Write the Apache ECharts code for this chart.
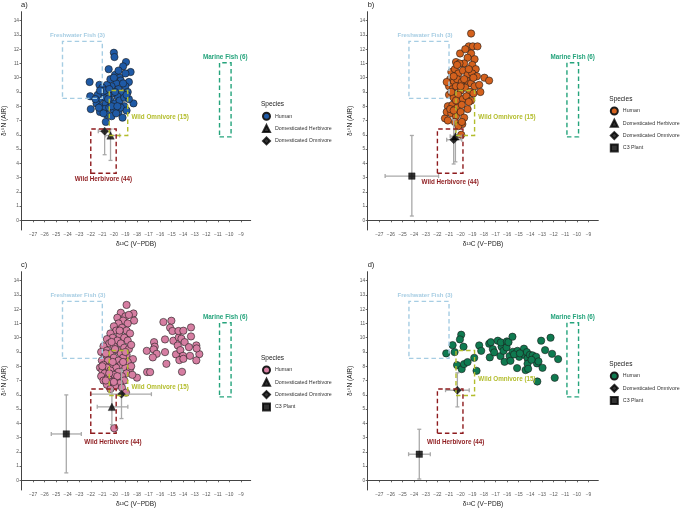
<!DOCTYPE html>
<html>
<head>
<meta charset="utf-8">
<script src="https://cdn.jsdelivr.net/npm/echarts@6/dist/echarts.min.js"></script>
<style>
html,body{margin:0;padding:0;background:#fff;}
#chart{width:680px;height:509px;}
</style>
</head>
<body>
<div id="chart"></div>
<script>
// tick values
var xTicks = [-27,-26,-25,-24,-23,-22,-21,-20,-19,-18,-17,-16,-15,-14,-13,-12,-11,-10,-9];
var yTicks = [0,1,2,3,4,5,6,7,8,9,10,11,12,13,14];
var panelLabels = ['a)', 'b)', 'c)', 'd)'];

// food group ranges: [xmin, ymin, xmax, ymax]
var boxNames = ['Freshwater Fish (3)', 'Marine Fish (6)', 'Wild Omnivore (15)', 'Wild Herbivore (44)'];
var freshwaterBox = [-24.45, 8.55, -21.0, 12.55];
var marineBox = [-10.85, 5.85, -9.85, 11.05];
var omnivoreBox = [-20.4, 5.95, -18.8, 9.1];
var herbivoreBox = [-22.0, 3.3, -19.8, 6.4];

// humans [d13C, d15N]
var humanA = [[-20.0,11.75],[-19.95,11.45],[-20.45,10.6],[-22.1,9.7],[-22.05,8.7],[-22.0,7.8],[-21.25,9.5],[-18.95,11.1],[-19.2,10.8],[-18.55,10.4],[-18.3,8.2],[-18.7,9.7],[-20.7,6.9],[-19.25,7.2],[-19.1,8.0],
[-19.9,10.2],[-19.5,10.0],[-19.0,10.3],[-19.4,9.8],[-19.8,9.6],[-20.2,9.4],[-20.6,9.5],[-21.0,9.3],[-19.6,9.2],[-19.0,9.4],[-18.8,9.0],[-19.3,8.9],[-19.7,8.7],[-20.1,8.9],[-20.5,8.8],[-20.9,8.6],[-21.3,8.5],[-21.5,8.2],[-21.1,8.0],[-20.7,8.2],[-20.3,8.4],[-19.9,8.2],[-19.5,8.4],[-19.1,8.6],[-18.7,8.5],[-20.8,7.8],[-20.4,7.9],[-20.0,7.7],[-19.6,7.6],[-21.2,7.6],[-20.6,7.4],[-20.2,7.3],[-19.8,7.5],[-21.0,9.0],[-20.3,9.9],[-20.0,10.0],[-19.2,9.6],[-19.6,10.5],[-20.8,9.1],[-21.4,8.8],[-20.5,8.5],[-19.4,7.9],[-18.9,8.8],[-20.2,8.0],[-21.6,8.5],[-19.9,9.0],[-20.4,9.2],[-21.2,9.1],[-19.7,8.0],[-18.9,7.7],[-20.9,7.5],[-21.3,7.9]];

var humanB = [[-19.1,13.1],[-19.3,12.2],[-18.95,12.2],[-18.55,12.2],[-20.05,11.7],[-20.4,11.1],[-17.95,10.0],[-17.55,9.8],[-21.35,7.15],[-21.1,7.0],[-19.95,6.0],[-19.85,6.75],[-19.1,11.7],[-18.8,11.3],[-19.4,11.4],[-19.7,11.0],[-19.0,10.9],[-18.7,10.6],[-20.8,10.4],[-20.5,10.6],[-20.2,10.3],[-19.8,10.5],[-19.4,10.2],[-19.0,10.3],[-18.6,10.1],[-20.9,9.9],[-20.6,9.7],[-20.3,9.9],[-19.9,9.7],[-19.5,9.8],[-19.1,9.6],[-18.8,9.4],[-18.4,9.5],[-21.0,9.4],[-20.7,9.2],[-20.4,9.4],[-20.0,9.1],[-19.6,9.3],[-19.2,9.0],[-18.9,8.9],[-18.3,9.0],[-21.0,8.8],[-20.6,8.6],[-20.2,8.8],[-19.8,8.5],[-19.5,8.7],[-19.1,8.4],[-21.1,8.0],[-20.7,8.1],[-20.3,7.9],[-19.9,8.1],[-19.4,7.8],[-21.2,7.6],[-20.8,7.5],[-20.4,7.3],[-20.0,7.6],[-19.7,7.2],[-20.5,6.9],[-20.2,6.6],[-20.9,7.8],[-20.6,10.1],[-19.3,10.6],[-20.1,11.0],[-19.6,12.0],[-20.0,9.4],[-20.8,9.0],[-19.3,8.3],[-20.4,8.4],[-21.2,9.7],[-20.3,10.9],[-19.7,9.9],[-18.9,10.0],[-20.6,7.7],[-19.9,6.9]];

var humanC = [[-18.9,12.3],[-19.4,11.75],[-18.3,11.7],[-18.25,11.2],[-19.7,11.4],[-19.0,11.5],[-18.7,11.6],[-19.2,11.2],[-18.8,11.0],[-19.6,11.0],[-20.0,10.8],[-19.3,10.7],[-18.9,10.5],[-19.8,10.5],[-20.3,10.3],[-18.6,10.3],[-19.5,10.2],[-20.1,10.0],[-19.1,10.0],[-20.6,9.9],[-19.7,9.8],[-18.8,9.8],[-20.4,9.6],[-19.4,9.6],[-20.9,9.4],[-20.0,9.4],[-19.1,9.3],[-18.7,9.2],[-20.6,9.1],[-19.7,9.1],[-21.1,9.0],[-20.3,8.9],[-19.4,8.9],[-18.9,8.8],[-20.8,8.7],[-20.0,8.6],[-19.2,8.6],[-21.04,8.4],[-18.35,8.5],[-20.5,8.4],[-19.6,8.4],[-18.8,8.3],[-20.9,8.1],[-20.2,8.1],[-19.4,8.1],[-21.2,7.9],[-20.6,7.9],[-19.8,7.9],[-19.0,7.9],[-18.6,7.8],[-21.0,7.7],[-20.3,7.7],[-19.6,7.6],[-18.9,7.5],[-18.0,7.2],[-20.8,7.5],[-20.0,7.4],[-19.3,7.3],[-21.1,7.3],[-20.5,7.2],[-19.8,7.1],[-19.1,7.0],[-20.9,7.0],[-20.2,6.9],[-19.5,6.8],[-20.6,6.7],[-19.9,6.6],[-19.3,6.5],[-20.3,6.4],[-18.95,6.15],[-19.97,3.65],[-20.7,8.9],[-19.9,9.2],[-20.2,9.7],[-19.5,10.5],[-18.5,9.5],[-19.0,9.0],[-20.1,8.3],[-20.7,7.0],[-19.7,7.3],[-18.5,8.0],[-20.4,7.5],[-19.2,8.3],[-20.0,6.9],[-18.4,7.4],[-21.0,8.0],
[-15.71,11.1],[-15.02,11.19],[-15.13,10.7],[-14.93,10.47],[-15.57,9.88],[-16.52,9.69],[-16.46,9.37],[-17.15,9.08],[-16.55,9.18],[-16.29,8.87],[-16.63,8.62],[-15.57,8.99],[-15.45,8.17],[-17.12,7.59],[-16.86,7.59],[-14.85,9.79],[-14.38,10.02],[-14.41,10.47],[-13.98,10.49],[-14.15,9.93],[-14.47,9.46],[-13.87,9.69],[-14.62,8.83],[-14.24,9.13],[-14.01,8.73],[-14.33,8.43],[-13.98,8.52],[-13.41,8.73],[-13.32,10.72],[-13.32,10.09],[-12.86,9.46],[-12.6,8.85],[-12.86,8.41],[-12.83,9.25],[-14.1,7.61],[-13.5,9.34]];

var humanD = [[-21.24,8.9],[-20.69,9.48],[-20.52,8.99],[-19.95,10.21],[-20.06,9.88],[-19.75,9.37],[-20.31,8.08],[-19.91,7.8],[-19.71,8.15],[-19.4,8.29],[-18.83,8.59],[-18.63,7.68],[-18.4,9.46],[-18.23,9.08],[-17.54,9.58],[-17.4,9.69],[-17.49,8.62],[-17.23,9.2],[-17.11,8.97],[-16.8,9.79],[-16.48,9.37],[-16.54,9.67],[-16.57,8.71],[-16.31,9.08],[-16.22,8.31],[-16.05,9.32],[-16.02,9.74],[-15.88,9.69],[-15.78,8.71],[-15.71,8.38],[-15.54,10.07],[-15.51,9.01],[-15.14,7.87],[-15.11,9.08],[-14.96,8.66],[-14.55,9.23],[-14.52,8.8],[-14.41,7.73],[-14.3,8.99],[-14.24,8.55],[-14.24,8.17],[-14.19,7.82],[-14.04,8.8],[-13.8,8.76],[-13.6,8.52],[-13.5,8.66],[-13.43,8.2],[-13.4,6.93],[-13.3,8.34],[-13.07,9.79],[-12.95,7.89],[-12.73,9.13],[-12.26,10.0],[-12.13,8.87],[-11.9,7.19],[-11.61,8.5],[-15.4,8.83],[-14.9,8.9],[-13.9,8.45]];

// means with ranges: [d13C, d15N, d13C low, d13C high, d15N low, d15N high]
var herbA = [[-20.29, 5.95, -20.72, -19.5, 4.2, 6.4]];
var omnA = [[-20.8, 6.25, -21.35, -20.3, 4.6, 6.4]];
var herbB = [[-20.45, 5.9, -20.9, -19.85, 4.1, 6.35]];
var omnB = [[-20.6, 5.65, -21.2, -19.9, 3.95, 7.05]];
var c3B = [[-24.2, 3.1, -26.5, -21.9, 0.3, 5.95]];
var herbC = [[-20.17, 5.15, -21.44, -18.79, 3.9, 6.4]];
var omnC = [[-19.34, 6.04, -22.02, -16.75, 4.33, 7.75]];
var c3C = [[-24.12, 3.25, -25.42, -22.82, 0.52, 5.99]];
var omnD = [[-20.28, 6.32, -21.3, -19.26, 5.15, 7.54]];
var c3D = [[-23.56, 1.83, -24.48, -22.61, 0.09, 3.58]];

var FONT = 'Liberation Sans, Arial, sans-serif';
var boxColors = ['#a6cde3', '#25a47c', '#b3bd2c', '#8e1b1e'];

var grids = [
  {left: 21, top: 11.7, width: 229.7, height: 218.3},
  {left: 367.7, top: 11.7, width: 230.6, height: 218.3},
  {left: 21, top: 271.7, width: 229.7, height: 218.3},
  {left: 367.7, top: 271.7, width: 230.6, height: 218.3}
];

// per panel: humans, colour, means, legend/title places, box label offsets
var panels = [
  {key: 'a', human: humanA, color: '#1f5aa6', herb: herbA, omn: omnA, c3: null,
   legendLeft: 262, legendTop: 111.8, speciesLeft: 261, speciesTop: 100.8,
   offs: [[-5, 0], [0, 0], [0, 4], [0, 0]]},
  {key: 'b', human: humanB, color: '#d4611d', herb: herbB, omn: omnB, c3: c3B,
   legendLeft: 609.8, legendTop: 106.5, speciesLeft: 609.3, speciesTop: 95.5,
   offs: [[-4, 0], [0, 0], [0, 4], [0, 3.5]]},
  {key: 'c', human: humanC, color: '#d67ea2', herb: herbC, omn: omnC, c3: c3C,
   legendLeft: 262, legendTop: 365.5, speciesLeft: 261, speciesTop: 354.8,
   offs: [[-4.5, 0], [0, 0], [0, 14], [9.5, 3.3]]},
  {key: 'd', human: humanD, color: '#0f7a50', herb: null, omn: omnD, c3: c3D,
   legendLeft: 609.8, legendTop: 371.5, speciesLeft: 609.3, speciesTop: 360.5,
   offs: [[-4, 0], [0, 0], [0, 6.5], [5.5, 3.3]]}
];

function minusFmt(v) {
  return v < 0 ? '\u2212' + Math.abs(v) : String(v);
}

function renderErr(params, api) {
  var x = api.value(0), y = api.value(1);
  var pL = api.coord([api.value(2), y]);
  var pR = api.coord([api.value(3), y]);
  var pB = api.coord([x, api.value(4)]);
  var pT = api.coord([x, api.value(5)]);
  var c = 2;
  var st = {stroke: '#a9a9a9', lineWidth: 1.3};
  function seg(x1, y1, x2, y2) {
    return {type: 'line', shape: {x1: x1, y1: y1, x2: x2, y2: y2}, style: st};
  }
  return {type: 'group', children: [
    seg(pL[0], pL[1], pR[0], pR[1]),
    seg(pL[0], pL[1] - c, pL[0], pL[1] + c),
    seg(pR[0], pR[1] - c, pR[0], pR[1] + c),
    seg(pB[0], pB[1], pT[0], pT[1]),
    seg(pB[0] - c, pB[1], pB[0] + c, pB[1]),
    seg(pT[0] - c, pT[1], pT[0] + c, pT[1])
  ]};
}

function boxArea(box, idx, off) {
  var pos = ['top', 'top', 'right', 'bottom'][idx];
  return [
    {
      name: boxNames[idx],
      coord: [box[0], box[1]],
      itemStyle: {color: 'rgba(0,0,0,0)', borderColor: boxColors[idx], borderWidth: 1.4, borderType: [4.5, 3]},
      label: {show: true, position: pos, distance: pos === 'right' ? 3 : 2, offset: off,
        color: boxColors[idx], fontSize: idx === 0 ? 6 : 6.3, fontWeight: 'bold', fontFamily: FONT}
    },
    {coord: [box[2], box[3]]}
  ];
}

var xAxes = [], yAxes = [], series = [], legends = [], titles = [];

panels.forEach(function (p, i) {
  xAxes.push({
    gridIndex: i, type: 'value', min: -28, max: -8.15,
    name: '\u03b4\u00b9\u00b3C (V\u2212PDB)', nameLocation: 'middle', nameGap: 10.5,
    nameTextStyle: {fontSize: 6.5, color: '#222', fontFamily: FONT},
    axisLine: {show: true, lineStyle: {color: '#444', width: 1}},
    axisTick: {show: true, length: 2, customValues: xTicks, lineStyle: {color: '#444', width: 0.8}},
    axisLabel: {customValues: xTicks, fontSize: 4.8, color: '#555', margin: 2.5, fontFamily: FONT, formatter: minusFmt},
    splitLine: {show: false}
  });
  yAxes.push({
    gridIndex: i, type: 'value', min: -0.68, max: 14.63,
    name: '\u03b4\u00b9\u2075N (AIR)', nameLocation: 'middle', nameGap: 13.5,
    nameTextStyle: {fontSize: 6.5, color: '#222', fontFamily: FONT},
    axisLine: {show: true, lineStyle: {color: '#444', width: 1}},
    axisTick: {show: true, length: 2, customValues: yTicks, lineStyle: {color: '#444', width: 0.8}},
    axisLabel: {customValues: yTicks, fontSize: 4.8, color: '#555', margin: 2.5, fontFamily: FONT},
    splitLine: {show: false}
  });

  var legendNames = ['Human#' + p.key];
  series.push({
    name: 'Human#' + p.key, type: 'scatter', xAxisIndex: i, yAxisIndex: i,
    data: p.human, symbol: 'circle', symbolSize: 7.3, z: 2,
    itemStyle: {color: p.color, borderColor: '#1b1b1b', borderWidth: 0.6, opacity: 1},
    markArea: {
      silent: true, z: 10,
      data: [
        boxArea(freshwaterBox, 0, p.offs[0]),
        boxArea(marineBox, 1, p.offs[1]),
        boxArea(omnivoreBox, 2, p.offs[2]),
        boxArea(herbivoreBox, 3, p.offs[3])
      ]
    }
  });

  var means = [];
  if (p.herb) means.push({name: 'Domesticated Herbivore', data: p.herb, symbol: 'triangle', size: 7.5});
  if (p.omn) means.push({name: 'Domesticated Omnivore', data: p.omn, symbol: 'diamond', size: 8});
  if (p.c3) means.push({name: 'C3 Plant', data: p.c3, symbol: 'rect', size: 6.5});

  means.forEach(function (m) {
    series.push({
      type: 'custom', xAxisIndex: i, yAxisIndex: i, data: m.data, z: 3,
      renderItem: renderErr, encode: {x: [0, 2, 3], y: [1, 4, 5]}, silent: true
    });
  });
  means.forEach(function (m) {
    legendNames.push(m.name + '#' + p.key);
    series.push({
      name: m.name + '#' + p.key, type: 'scatter', xAxisIndex: i, yAxisIndex: i,
      data: m.data, encode: {x: 0, y: 1}, symbol: m.symbol, symbolSize: m.size, z: 4,
      itemStyle: {color: '#000', borderColor: '#000', borderWidth: 0.4}
    });
  });

  legends.push({
    data: legendNames, orient: 'vertical', left: p.legendLeft, top: p.legendTop,
    itemWidth: 7, itemHeight: 7, itemGap: 3.3, padding: 0, selectedMode: false,
    textStyle: {fontSize: 5.3, color: '#333', fontFamily: FONT},
    formatter: function (name) { return name.split('#')[0]; }
  });

  titles.push({
    text: 'Species', left: p.speciesLeft, top: p.speciesTop, padding: 0,
    textStyle: {fontSize: 6.5, fontWeight: 'normal', color: '#222', fontFamily: FONT}
  });
  titles.push({
    text: panelLabels[i], left: grids[i].left, top: grids[i].top - 10.5, padding: 0,
    textStyle: {fontSize: 7.5, fontWeight: 'normal', color: '#222', fontFamily: FONT}
  });
});

var chart = echarts.init(document.getElementById('chart'));
chart.setOption({
  backgroundColor: '#fff',
  animation: false,
  title: titles,
  grid: grids,
  xAxis: xAxes,
  yAxis: yAxes,
  legend: legends,
  series: series
});
</script>
</body>
</html>
